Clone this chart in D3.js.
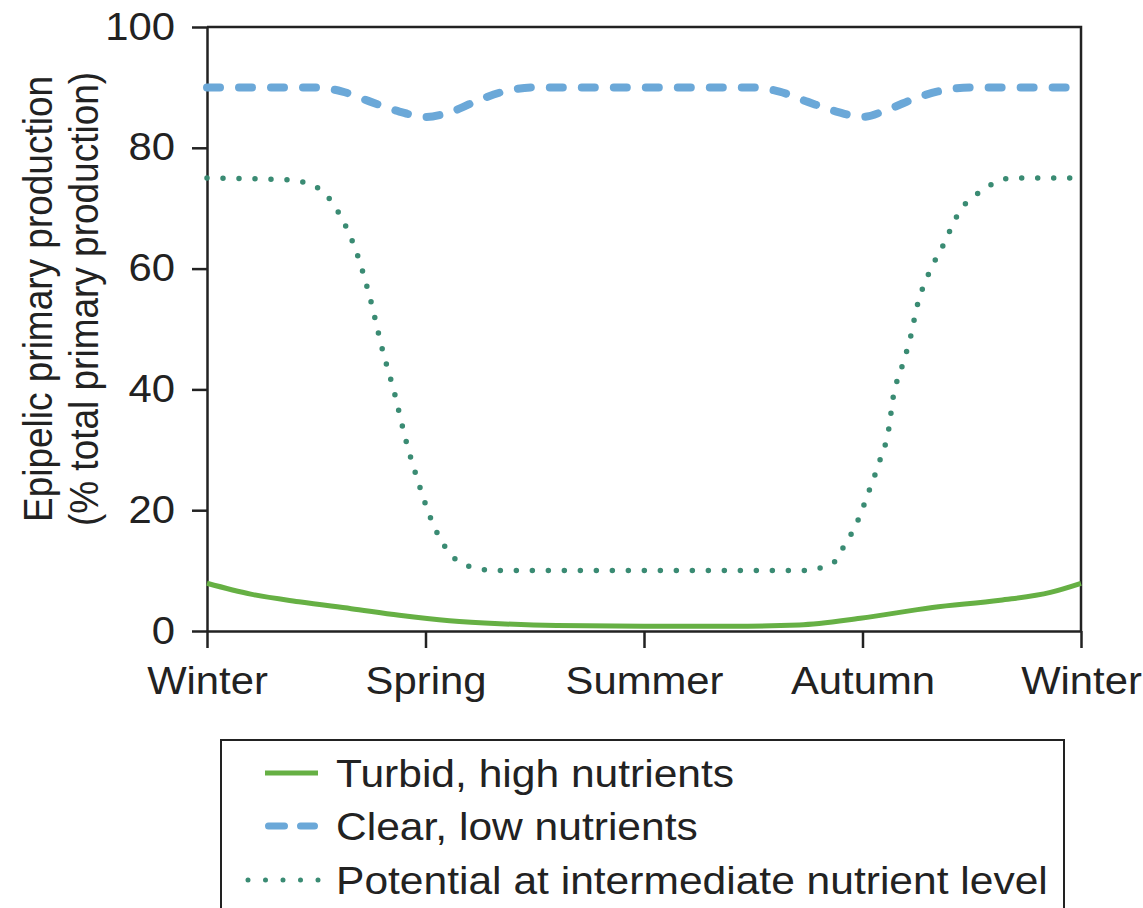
<!DOCTYPE html>
<html>
<head>
<meta charset="utf-8">
<script src="https://cdn.jsdelivr.net/npm/d3@7"></script>
<style>
  body { margin: 0; background: #fff; }
  text { font-family: "Liberation Sans", Arial, sans-serif; fill: #222; }
</style>
</head>
<body>
<div id="chart"></div>
<script>
// Globals
const seasons = ["Winter", "Spring", "Summer", "Autumn", "Winter"];
const yTicks = [0, 20, 40, 60, 80, 100];

// season position (0 = winter ... 4 = next winter) and % values
const turbidX = [0, 0.2, 0.43, 0.66, 0.88, 1.11, 1.34, 1.6, 2.0, 2.4, 2.71, 2.99, 3.32, 3.63, 3.86, 4];
const turbidY = [7.9, 6.1, 4.8, 3.7, 2.6, 1.7, 1.2, 0.9, 0.8, 0.8, 1.0, 2.1, 3.9, 5.1, 6.4, 7.9];

const clearX = [0, 0.5, 0.62, 0.75, 0.88, 1.0, 1.12, 1.25, 1.38, 1.5, 2.5, 2.62, 2.75, 2.88, 3.0, 3.12, 3.25, 3.38, 3.5, 4];
const clearY = [90, 90, 89.3, 87.6, 86.0, 85.1, 86.0, 88.0, 89.5, 90, 90, 89.3, 87.6, 86.0, 85.1, 86.4, 88.3, 89.6, 90, 90];

const potentialX = [0, 0.37, 0.5, 0.6, 0.69, 0.75, 0.8, 0.86, 0.91, 0.97, 1.02, 1.09, 1.19, 1.33, 2.72, 2.86, 2.91, 2.98, 3.03, 3.08, 3.12, 3.14, 3.18, 3.22, 3.25, 3.3, 3.37, 3.44, 3.55, 3.69, 4];
const potentialY = [75, 74.7, 73.5, 69.4, 62.1, 54.6, 47.0, 39.1, 31.6, 24.3, 19.0, 13.9, 10.8, 10, 10, 11.1, 13.7, 18.4, 23.2, 28.3, 33.4, 38.6, 43.7, 48.7, 53.8, 58.9, 63.9, 69.2, 73.0, 75, 75];

const seriesNames = ["Turbid, high nutrients", "Clear, low nutrients", "Potential at intermediate nutrient level"];
const seriesColors = ["#66b044", "#6ba8d8", "#3a8b73"];

const W = 1143, H = 908;
const margin = {top: 27, right: 62, bottom: 277, left: 207},
  width = W - margin.left - margin.right,
  height = H - margin.top - margin.bottom;
const stretch = 1.1; // glyphs in the figure are a bit wider than Arial

const svg = d3.select("#chart")
  .append("svg")
    .attr("width", W)
    .attr("height", H);

const g = svg.append("g")
  .attr("transform", "translate(" + margin.left + "," + margin.top + ")");

const x = d3.scaleLinear().domain([0, 4]).range([0, width]);
const y = d3.scaleLinear().domain([0, 100]).range([height, 0]);

// frame (top and right sides)
g.append("path")
  .attr("d", "M0,0H" + width + "V" + height)
  .attr("fill", "none")
  .attr("stroke", "#222")
  .attr("stroke-width", 2.5);

// Y axis
const yAxis = g.append("g")
  .call(d3.axisLeft(y).tickValues(yTicks).tickSize(15).tickSizeOuter(0).tickPadding(17));
yAxis.selectAll("text")
  .style("font-size", "38px")
  .attr("x", -32 / stretch)
  .attr("transform", "scale(" + stretch + ",1)");

// X axis
const xAxis = g.append("g")
  .attr("transform", "translate(0," + height + ")")
  .call(d3.axisBottom(x).tickValues([0, 1, 2, 3, 4]).tickFormat(i => seasons[i])
    .tickSize(17).tickSizeOuter(0).tickPadding(19));
xAxis.selectAll("text")
  .style("font-size", "38px")
  .attr("transform", "scale(" + stretch + ",1)");

[yAxis, xAxis].forEach(a => {
  a.selectAll("path, line").attr("stroke", "#222").attr("stroke-width", 2.5);
});

// Y axis title
const title = svg.append("g");
[["Epipelic primary production", 52], ["(% total primary production)", 98]].forEach(([t, bx]) => {
  title.append("text")
    .attr("transform", "translate(" + bx + ",299) rotate(-90) scale(1," + stretch + ")")
    .attr("text-anchor", "middle")
    .style("font-size", "37px")
    .text(t);
});

// Lines
const line = d3.line()
  .x(d => x(d[0]))
  .y(d => y(d[1]))
  .curve(d3.curveMonotoneX);

const turbid = turbidX.map((v, i) => [v, turbidY[i]]);
const clear = clearX.map((v, i) => [v, clearY[i]]);
const potential = potentialX.map((v, i) => [v, potentialY[i]]);

g.append("path")
  .datum(potential)
  .attr("d", line)
  .attr("fill", "none")
  .attr("stroke", seriesColors[2])
  .attr("stroke-width", 5.5)
  .attr("stroke-linecap", "round")
  .attr("stroke-dasharray", "0,16");

g.append("path")
  .datum(clear)
  .attr("d", line)
  .attr("fill", "none")
  .attr("stroke", seriesColors[1])
  .attr("stroke-width", 8)
  .attr("stroke-linecap", "round")
  .attr("stroke-dasharray", "13,19");

g.append("path")
  .datum(turbid)
  .attr("d", line)
  .attr("fill", "none")
  .attr("stroke", seriesColors[0])
  .attr("stroke-width", 5);

// Legend
const legend = svg.append("g");
legend.append("rect")
  .attr("x", 221)
  .attr("y", 740)
  .attr("width", 843)
  .attr("height", 220)
  .attr("fill", "none")
  .attr("stroke", "#222")
  .attr("stroke-width", 2);

const rowY = [773, 826, 880];
// solid sample
legend.append("line")
  .attr("x1", 265).attr("x2", 318).attr("y1", rowY[0]).attr("y2", rowY[0])
  .attr("stroke", seriesColors[0]).attr("stroke-width", 5);
// dashed sample
legend.append("line")
  .attr("x1", 268.5).attr("x2", 314.5).attr("y1", rowY[1]).attr("y2", rowY[1])
  .attr("stroke", seriesColors[1]).attr("stroke-width", 7)
  .attr("stroke-linecap", "round").attr("stroke-dasharray", "16,16");
// dotted sample
legend.append("line")
  .attr("x1", 248).attr("x2", 318.5).attr("y1", rowY[2]).attr("y2", rowY[2])
  .attr("stroke", seriesColors[2]).attr("stroke-width", 5)
  .attr("stroke-linecap", "round").attr("stroke-dasharray", "0,17.5");

seriesNames.forEach((name, i) => {
  legend.append("text")
    .attr("transform", "translate(336," + (rowY[i] + 14) + ") scale(1.12,1)")
    .style("font-size", "38px")
    .text(name);
});
</script>
</body>
</html>
